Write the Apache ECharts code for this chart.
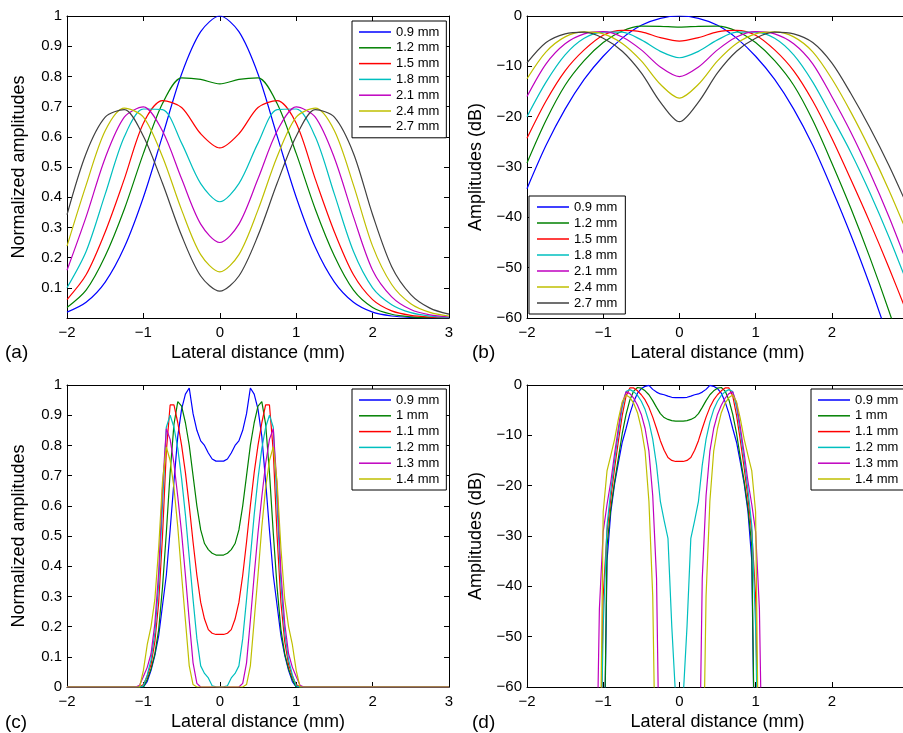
<!DOCTYPE html>
<html><head><meta charset="utf-8">
<script src="https://cdn.jsdelivr.net/npm/echarts@6/dist/echarts.min.js"></script>
<style>html,body{margin:0;padding:0;background:#fff}#c{width:903px;height:733px}</style>
</head><body><div id="c"></div>
<script>
// x grids
const xAB = [-2,-1.75,-1.5,-1.25,-1,-0.75,-0.5,-0.25,0,0.25,0.5,0.75,1,1.25,1.5,1.75,2,2.25,2.5,2.75,3];
const xCD = [-2,-1.1,-1.05,-1,-0.95,-0.9,-0.85,-0.8,-0.75,-0.7,-0.65,-0.6,-0.55,-0.5,-0.45,-0.4,-0.35,-0.3,-0.25,-0.2,-0.15,-0.1,-0.05,0,0.05,0.1,0.15,0.2,0.25,0.3,0.35,0.4,0.45,0.5,0.55,0.6,0.65,0.7,0.75,0.8,0.85,0.9,0.95,1,1.05,1.1,3];
const namesAB = ['0.9 mm','1.2 mm','1.5 mm','1.8 mm','2.1 mm','2.4 mm','2.7 mm'];
const namesCD = ['0.9 mm','1 mm','1.1 mm','1.2 mm','1.3 mm','1.4 mm'];
const colors = ['#0000ff','#008000','#ff0000','#00bfbf','#bf00bf','#bfbf00','#404040'];

// (a) normalized amplitudes
const a09 = [0.0193,0.052,0.119,0.234,0.40,0.603,0.808,0.948,1,0.948,0.808,0.603,0.40,0.234,0.119,0.052,0.0193,0.0067,0.0021,0.0006,0.00015];
const a12 = [0.0347,0.092,0.205,0.36,0.545,0.71,0.795,0.79,0.775,0.79,0.795,0.71,0.545,0.36,0.205,0.092,0.0347,0.0123,0.004,0.00117,0.00032];
const a15 = [0.061,0.143,0.285,0.46,0.645,0.72,0.697,0.61,0.563,0.61,0.697,0.72,0.645,0.46,0.285,0.143,0.061,0.0237,0.0089,0.00316,0.00106];
const a18 = [0.10,0.22,0.41,0.60,0.692,0.69,0.579,0.445,0.385,0.445,0.579,0.69,0.692,0.60,0.41,0.22,0.10,0.0442,0.0176,0.0064,0.0021];
const a21 = [0.158,0.335,0.53,0.665,0.699,0.619,0.461,0.311,0.25,0.311,0.461,0.619,0.699,0.665,0.53,0.335,0.158,0.07,0.0279,0.0101,0.0033];
const a24 = [0.238,0.44,0.62,0.695,0.665,0.534,0.358,0.21,0.153,0.21,0.358,0.534,0.665,0.695,0.62,0.44,0.238,0.111,0.0473,0.0186,0.0067];
const a27 = [0.342,0.545,0.665,0.69,0.602,0.446,0.273,0.139,0.089,0.139,0.273,0.446,0.602,0.69,0.665,0.545,0.342,0.170,0.0776,0.0327,0.0126];

// (b) amplitudes in dB
const b09 = [-34.3,-25.7,-18.5,-12.6,-8.0,-4.4,-1.85,-0.46,0,-0.46,-1.85,-4.4,-8.0,-12.6,-18.5,-25.7,-34.3,-43.5,-53.5,-64.5,-76.5];
const b12 = [-29.19,-20.72,-13.76,-8.87,-5.27,-2.97,-2.0,-2.05,-2.21,-2.05,-2.0,-2.97,-5.27,-8.87,-13.76,-20.72,-29.19,-38.2,-48,-58.6,-70];
const b15 = [-24.3,-16.9,-10.9,-6.74,-3.81,-2.85,-3.14,-4.29,-4.99,-4.29,-3.14,-2.85,-3.81,-6.74,-10.9,-16.9,-24.3,-32.5,-41,-50,-59.5];
const b18 = [-20,-13.15,-7.74,-4.44,-3.2,-3.22,-4.75,-7.03,-8.29,-7.03,-4.75,-3.22,-3.2,-4.44,-7.74,-13.15,-20,-27.1,-35.1,-43.9,-53.5];
const b21 = [-16.0,-9.5,-5.51,-3.54,-3.11,-4.17,-6.73,-10.14,-12.04,-10.14,-6.73,-4.17,-3.11,-3.54,-5.51,-9.5,-16.0,-23.1,-31.1,-39.9,-49.6];
const b24 = [-12.47,-7.13,-4.15,-3.16,-3.54,-5.45,-8.92,-13.56,-16.31,-13.56,-8.92,-5.45,-3.54,-3.16,-4.15,-7.13,-12.47,-19.1,-26.5,-34.6,-43.5];
const b27 = [-9.32,-5.27,-3.54,-3.22,-4.41,-7.0,-11.3,-17.1,-21.0,-17.1,-11.3,-7.0,-4.41,-3.22,-3.54,-5.27,-9.32,-15.4,-22.2,-29.7,-38.0];

// (c) normalized amplitudes
const c09 = [0,0,0,0,0.018,0.055,0.105,0.17,0.27,0.37,0.52,0.68,0.83,0.92,0.97,0.99,0.905,0.85,0.815,0.80,0.775,0.755,0.748,0.748,0.748,0.755,0.775,0.80,0.815,0.85,0.905,0.99,0.97,0.92,0.83,0.68,0.52,0.37,0.27,0.17,0.105,0.055,0.018,0,0,0,0];
const c10 = [0,0,0,0,0.025,0.06,0.11,0.19,0.33,0.51,0.71,0.87,0.945,0.93,0.875,0.80,0.70,0.60,0.52,0.475,0.455,0.443,0.437,0.437,0.437,0.443,0.455,0.475,0.52,0.60,0.70,0.80,0.875,0.93,0.945,0.87,0.71,0.51,0.33,0.19,0.11,0.06,0.025,0,0,0,0];
const c11 = [0,0,0,0.008,0.035,0.075,0.15,0.28,0.50,0.78,0.934,0.934,0.875,0.80,0.71,0.60,0.48,0.37,0.28,0.225,0.19,0.178,0.174,0.174,0.174,0.178,0.19,0.225,0.28,0.37,0.48,0.60,0.71,0.80,0.875,0.934,0.934,0.78,0.50,0.28,0.15,0.075,0.035,0.008,0,0,0];
const c12 = [0,0,0,0.004,0.04,0.09,0.18,0.34,0.60,0.86,0.90,0.86,0.79,0.69,0.57,0.43,0.29,0.16,0.07,0.045,0.03,0.004,0.0008,0,0.0008,0.004,0.03,0.045,0.07,0.16,0.29,0.43,0.57,0.69,0.79,0.86,0.90,0.86,0.60,0.34,0.18,0.09,0.04,0.004,0,0,0];
const c13 = [0,0,0.006,0.035,0.065,0.11,0.21,0.38,0.66,0.855,0.82,0.74,0.63,0.51,0.37,0.22,0.08,0.012,0,0,0,0,0,0,0,0,0,0,0,0.012,0.08,0.22,0.37,0.51,0.63,0.74,0.82,0.855,0.66,0.38,0.21,0.11,0.065,0.035,0.006,0,0];
const c14 = [0,0,0,0.055,0.14,0.2,0.29,0.46,0.68,0.795,0.75,0.66,0.53,0.37,0.22,0.07,0.008,0,0,0,0,0,0,0,0,0,0,0,0,0,0.008,0.07,0.22,0.37,0.53,0.66,0.75,0.795,0.68,0.46,0.29,0.2,0.14,0.055,0,0,0];

// (d) amplitudes in dB (-90 = below the plotted range)
const d09 = [-90,-90,-90,-90,-34.89,-25.19,-19.58,-15.39,-11.37,-8.64,-5.68,-3.35,-1.62,-0.72,-0.26,-0.09,-0.87,-1.41,-1.78,-1.94,-2.21,-2.44,-2.52,-2.52,-2.52,-2.44,-2.21,-1.94,-1.78,-1.41,-0.87,-0.09,-0.26,-0.72,-1.62,-3.35,-5.68,-8.64,-11.37,-15.39,-19.58,-25.19,-34.89,-90,-90,-90,-90];
const d10 = [-90,-90,-90,-90,-32.04,-24.44,-19.17,-14.42,-9.63,-5.85,-2.97,-1.21,-0.49,-0.63,-1.16,-1.94,-3.10,-4.44,-5.68,-6.47,-6.84,-7.07,-7.19,-7.19,-7.19,-7.07,-6.84,-6.47,-5.68,-4.44,-3.10,-1.94,-1.16,-0.63,-0.49,-1.21,-2.97,-5.85,-9.63,-14.42,-19.17,-24.44,-32.04,-90,-90,-90,-90];
const d11 = [-90,-90,-90,-41.94,-29.12,-22.5,-16.48,-11.06,-6.02,-2.16,-0.59,-0.59,-1.16,-1.94,-2.97,-4.44,-6.38,-8.64,-11.06,-12.96,-14.42,-14.99,-15.19,-15.19,-15.19,-14.99,-14.42,-12.96,-11.06,-8.64,-6.38,-4.44,-2.97,-1.94,-1.16,-0.59,-0.59,-2.16,-6.02,-11.06,-16.48,-22.5,-29.12,-41.94,-90,-90,-90];
const d12 = [-90,-90,-90,-47.96,-27.96,-20.92,-14.89,-9.37,-4.44,-1.31,-0.92,-1.31,-2.05,-3.22,-4.88,-7.33,-10.75,-15.92,-23.1,-26.94,-30.46,-47.96,-61.9,-90,-61.9,-47.96,-30.46,-26.94,-23.1,-15.92,-10.75,-7.33,-4.88,-3.22,-2.05,-1.31,-0.92,-1.31,-4.44,-9.37,-14.89,-20.92,-27.96,-47.96,-90,-90,-90];
const d13 = [-90,-90,-44.44,-29.12,-23.74,-19.17,-13.56,-8.40,-3.61,-1.36,-1.72,-2.62,-4.01,-5.85,-8.64,-13.15,-21.94,-38.42,-90,-90,-90,-90,-90,-90,-90,-90,-90,-90,-90,-38.42,-21.94,-13.15,-8.64,-5.85,-4.01,-2.62,-1.72,-1.36,-3.61,-8.40,-13.56,-19.17,-23.74,-29.12,-44.44,-90,-90];
const d14 = [-90,-90,-90,-25.19,-17.08,-13.98,-10.75,-6.74,-3.35,-1.99,-2.50,-3.61,-5.51,-8.64,-13.15,-23.10,-41.94,-90,-90,-90,-90,-90,-90,-90,-90,-90,-90,-90,-90,-90,-41.94,-23.10,-13.15,-8.64,-5.51,-3.61,-2.50,-1.99,-3.35,-6.74,-10.75,-13.98,-17.08,-25.19,-90,-90,-90];

const FONT = '"Liberation Sans", Arial, Helvetica, sans-serif';
const fmtNum = v => { const s = String(parseFloat(Number(v).toFixed(3))); return s.replace('-', '\u2212'); };

const grids = [
  {left:67, top:16, width:382, height:302, outerBoundsMode:'none', containLabel:false},
  {left:527, top:16, width:381, height:302, outerBoundsMode:'none', containLabel:false},
  {left:67, top:385, width:382, height:302, outerBoundsMode:'none', containLabel:false},
  {left:527, top:385, width:381, height:302, outerBoundsMode:'none', containLabel:false}
];
const yRanges = [
  {min:0, max:1, interval:0.1, hideZero:true, name:'Normalized amplitudes', gap:39},
  {min:-60, max:0, interval:10, hideZero:false, name:'Amplitudes (dB)', gap:42},
  {min:0, max:1, interval:0.1, hideZero:false, name:'Normalized amplitudes', gap:39},
  {min:-60, max:0, interval:10, hideZero:false, name:'Amplitudes (dB)', gap:42}
];

const tickStyle = {inside:true, length:5, lineStyle:{color:'#000', width:1}};
const lineStyleAx = {show:true, onZero:false, lineStyle:{color:'#000', width:1}};

const xAxes = [], yAxes = [];
grids.forEach((g, i) => {
  xAxes.push({type:'value', gridIndex:i, min:-2, max:3, interval:1, position:'bottom',
    axisLine:lineStyleAx, axisTick:tickStyle, splitLine:{show:false},
    axisLabel:{color:'#000', fontSize:15, fontFamily:FONT, margin:7, formatter:fmtNum,
      hideOverlap:false, showMaxLabel:true, showMinLabel:true},
    name:'Lateral distance (mm)', nameLocation:'middle', nameGap:26,
    nameTextStyle:{color:'#000', fontSize:18, fontFamily:FONT}});
  const r = yRanges[i];
  yAxes.push({type:'value', gridIndex:i, min:r.min, max:r.max, interval:r.interval, position:'left',
    axisLine:lineStyleAx, axisTick:tickStyle, splitLine:{show:false},
    axisLabel:{color:'#000', fontSize:15, fontFamily:FONT, margin:5,
      formatter: v => (r.hideZero && Math.abs(v) < 1e-9) ? '' : fmtNum(v)},
    name:r.name, nameLocation:'middle', nameGap:r.gap, nameRotate:90,
    nameTextStyle:{color:'#000', fontSize:18, fontFamily:FONT}});
});
grids.forEach((g, i) => {
  xAxes.push({type:'value', gridIndex:i, min:-2, max:3, interval:1, position:'top',
    axisLine:lineStyleAx, axisTick:tickStyle, splitLine:{show:false}, axisLabel:{show:false}});
  const r = yRanges[i];
  yAxes.push({type:'value', gridIndex:i, min:r.min, max:r.max, interval:r.interval, position:'right',
    axisLine:lineStyleAx, axisTick:tickStyle, splitLine:{show:false}, axisLabel:{show:false}});
});

function mk(prefix, name, xs, ys, idx, color, smooth) {
  return {type:'line', name: prefix + '|' + name, xAxisIndex:idx, yAxisIndex:idx,
    data: xs.map((x, k) => [x, ys[k]]), symbol:'none', smooth: smooth, clip:true,
    lineStyle:{width:1.2, color:color}, itemStyle:{color:color}, emphasis:{disabled:true}};
}

const seriesA = [a09,a12,a15,a18,a21,a24,a27];
const seriesB = [b09,b12,b15,b18,b21,b24,b27];
const seriesC = [c09,c10,c11,c12,c13,c14];
const seriesD = [d09,d10,d11,d12,d13,d14];

const series = [];
seriesA.forEach((s, k) => series.push(mk('a', namesAB[k], xAB, s, 0, colors[k], 0.3)));
seriesB.forEach((s, k) => series.push(mk('b', namesAB[k], xAB, s, 1, colors[k], 0.3)));
seriesC.forEach((s, k) => series.push(mk('c', namesCD[k], xCD, s, 2, colors[k], false)));
seriesD.forEach((s, k) => series.push(mk('d', namesCD[k], xCD, s, 3, colors[k], false)));

function legend(prefix, names, left, top, gap, pad) {
  return {orient:'vertical', left:left, top:top, icon:'rect', itemWidth:32, itemHeight:1.5, itemGap:gap,
    padding:pad, borderColor:'#000', borderWidth:1, backgroundColor:'#fff',
    selectedMode:false,
    textStyle:{color:'#000', fontSize:13, fontFamily:FONT, lineHeight:14},
    data: names.map(n => prefix + '|' + n),
    formatter: n => n.split('|')[1]};
}

const labels = [['(a)',5,343],['(b)',472,343],['(c)',5,713],['(d)',472,713]];

const option = {
  animation:false,
  backgroundColor:'#fff',
  grid: grids,
  xAxis: xAxes,
  yAxis: yAxes,
  legend: [
    legend('a', namesAB, 352, 21, 1.8, [4,7,4,7]),
    legend('b', namesAB, 529, 196, 2, [4,8,4,8]),
    legend('c', namesCD, 352, 389, 1.8, [4,7,4,7]),
    legend('d', namesCD, 811, 389, 1.8, [4,7,4,7])
  ],
  graphic: labels.map(l => ({type:'text', left:l[1], top:l[2],
    style:{text:l[0], fontSize:19, fill:'#000', font:'19px ' + FONT}})),
  series: series
};

const chart = echarts.init(document.getElementById('c'), null, {renderer:'canvas'});
chart.setOption(option);
</script>
</body></html>
